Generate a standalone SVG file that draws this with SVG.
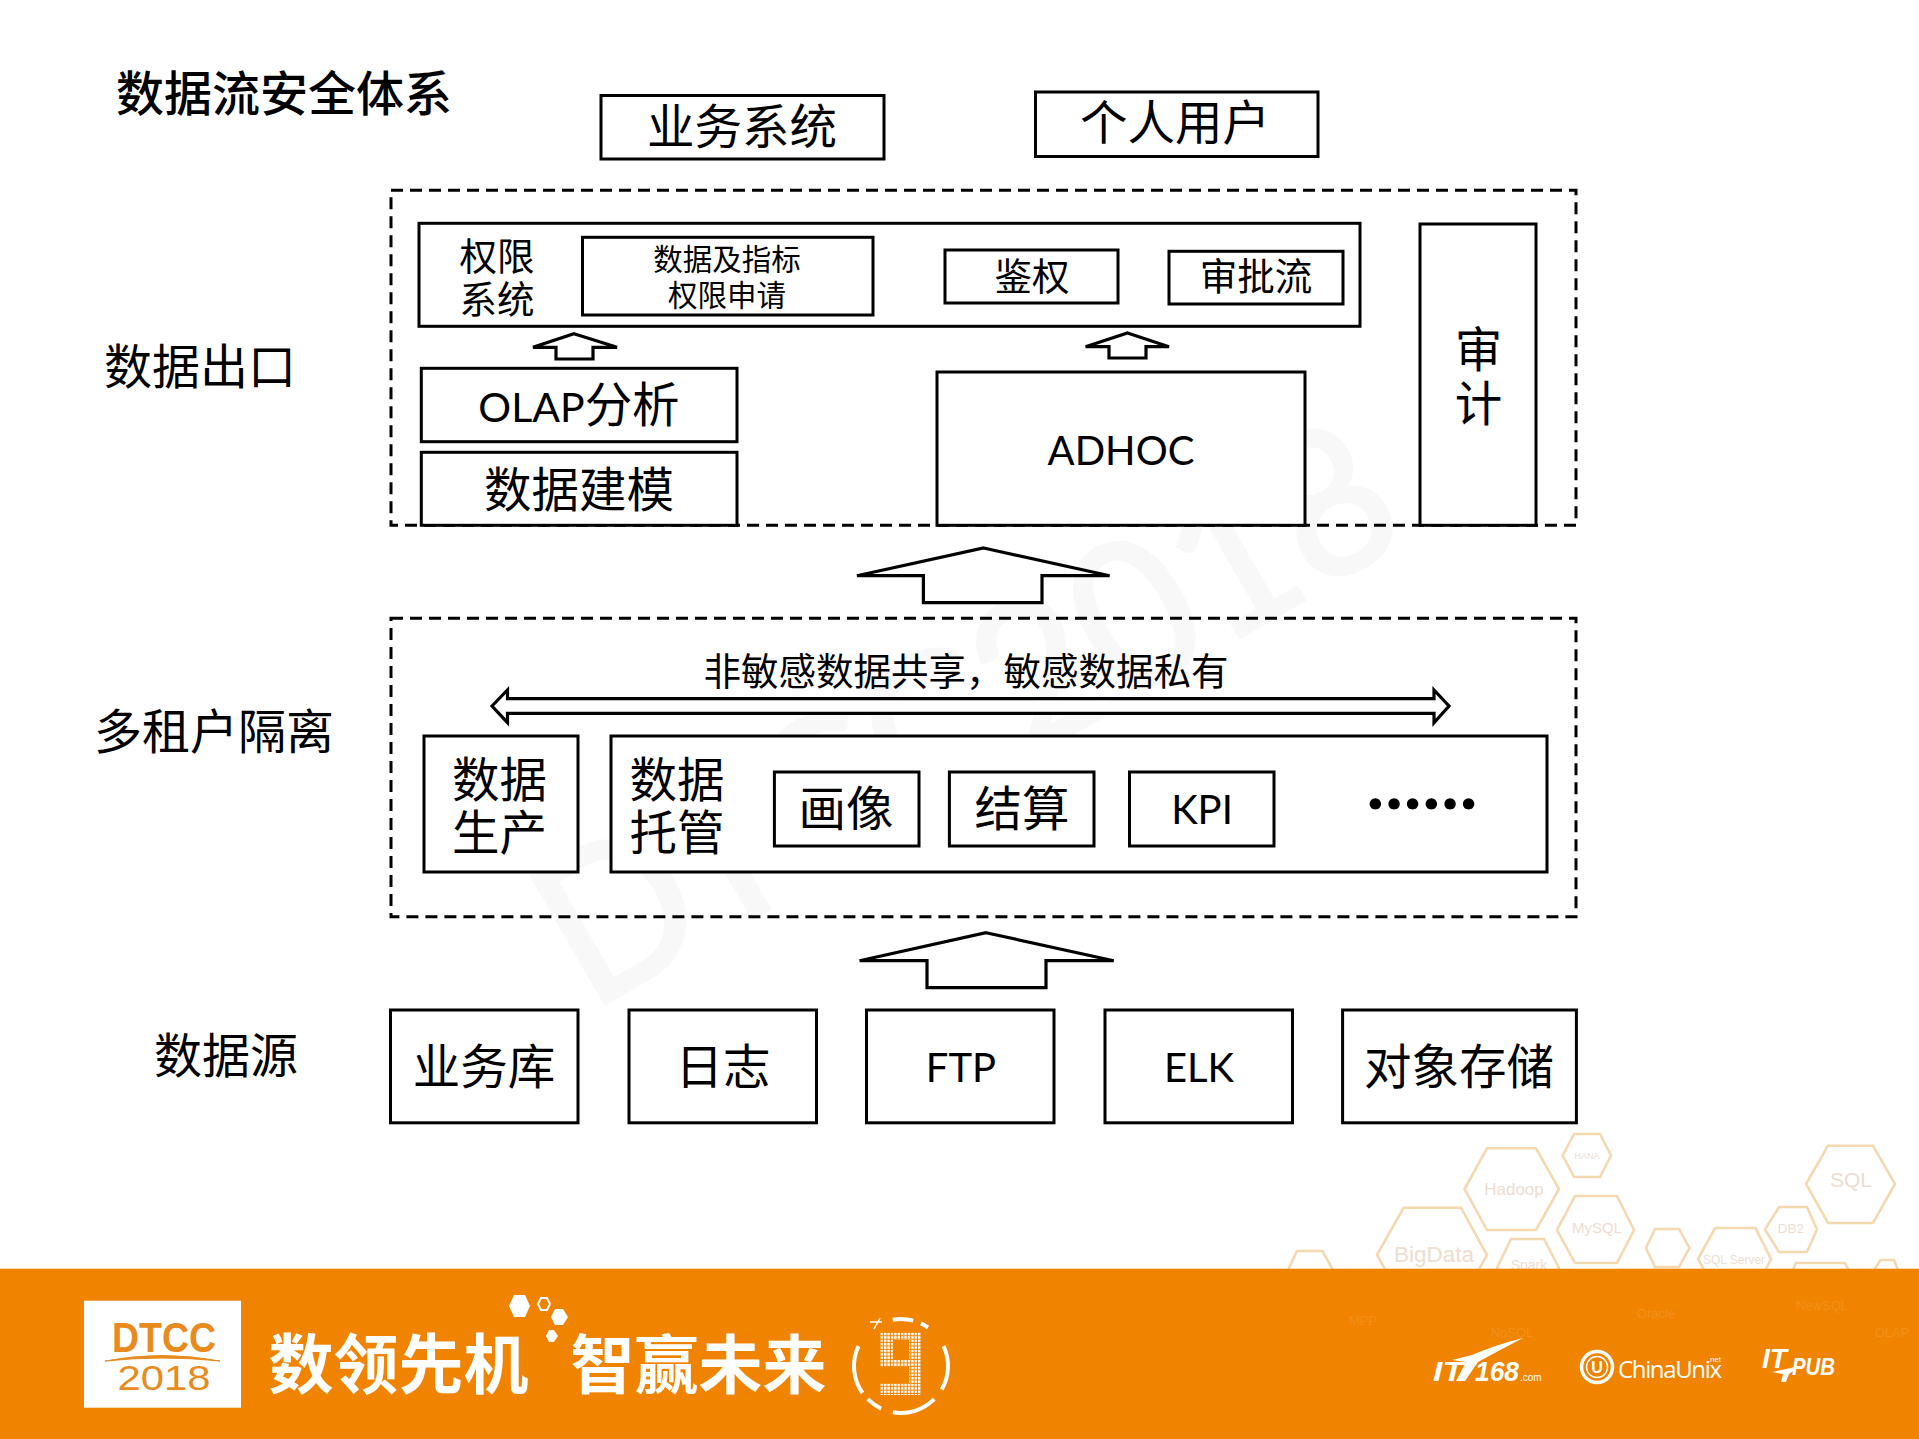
<svg xmlns="http://www.w3.org/2000/svg" width="1919" height="1439" viewBox="0 0 1919 1439">
<defs>
<style>
text{font-family:"Noto Sans CJK SC","Liberation Sans",sans-serif;text-anchor:middle;fill:#000}
.l{font-family:Lato,"Noto Sans CJK SC",sans-serif;font-size:40px}
.b{fill:#fff;stroke:#000;stroke-width:3}
.d{fill:none;stroke:#000;stroke-width:3;stroke-dasharray:12 7}
.a{fill:#fff;stroke:#000;stroke-width:3.2;stroke-linejoin:miter}
.f46{font-size:47.5px}.f37{font-size:37.5px}.f29{font-size:29.5px}
.hx{fill:none;stroke:#f4d8b0;stroke-width:2.6}
.ht{font-family:"Liberation Sans",sans-serif;fill:#eddcd0}
.ft{font-family:"Liberation Sans",sans-serif;fill:#f2901c}
.w{fill:#fff}
.arc{fill:none;stroke:#fff;stroke-width:4}
</style>
<pattern id="dots" width="3.4" height="3.4" patternUnits="userSpaceOnUse"><rect width="2.4" height="2.4" fill="#fff"/></pattern>
</defs>
<rect width="1919" height="1439" fill="#fff"/>
<text id="watermark" x="590" y="1012" transform="rotate(-30 590 1012)" textLength="950" lengthAdjust="spacingAndGlyphs" style="font-family:Lato,'Liberation Sans',sans-serif;font-weight:400;font-size:204px;text-anchor:start;fill:#f8f8f8;stroke:#f8f8f8;stroke-width:4">DTCC2018</text>

<g id="deco-hexagons">
<polygon class="hx" points="1464.6,1189 1487,1148.3 1536,1148.3 1559,1189 1536,1230 1487,1230"/>
<polygon class="hx" points="1562.7,1155.5 1574,1134 1600,1134 1611,1155.5 1600,1177 1574,1177"/>
<polygon class="hx" points="1806,1184 1828,1145.7 1873,1145.7 1895,1184 1873,1223 1828,1223"/>
<polygon class="hx" points="1557,1230 1575,1196 1617,1196 1634,1230 1617,1263 1575,1263"/>
<polygon class="hx" points="1377,1255 1403.6,1207.7 1461,1207.7 1487,1255 1461,1302 1403.6,1302"/>
<polygon class="hx" points="1497,1268 1511,1239 1544,1239 1559,1268 1544,1297 1511,1297"/>
<polygon class="hx" points="1646,1248 1655,1229 1679,1229 1689.4,1248 1679,1267 1655,1267"/>
<polygon class="hx" points="1698,1259 1715,1228 1755.5,1228 1771,1259 1755.5,1290 1715,1290"/>
<polygon class="hx" points="1765,1229.5 1779,1207 1807,1207 1817,1229.5 1807,1252 1779,1252"/>
<polygon class="hx" points="1288,1270 1297,1251 1322.5,1251 1333,1270 1322,1290 1297,1290"/>
<polygon class="hx" points="1790,1275 1796,1263 1845,1263 1851,1275 1845,1290 1796,1290"/>
<polygon class="hx" points="1874,1270 1880.5,1260 1894,1260 1898,1270 1894,1280 1880.5,1280"/>
<text class="ht" x="1514" y="1195" font-size="17">Hadoop</text>
<text class="ht" x="1587" y="1159" font-size="9">HANA</text>
<text class="ht" x="1851" y="1187" font-size="21">SQL</text>
<text class="ht" x="1597" y="1233" font-size="15">MySQL</text>
<text class="ht" x="1434" y="1262" font-size="22.5">BigData</text>
<text class="ht" x="1529" y="1270" font-size="14">Spark</text>
<text class="ht" x="1734" y="1264" font-size="12">SQL Server</text>
<text class="ht" x="1791" y="1233" font-size="13.5">DB2</text>
</g>

<g id="footer">
<rect y="1268.7" width="1919" height="171" fill="#f08300"/>
<text class="ft" x="1363" y="1325" font-size="13">MPP</text>
<text class="ft" x="1512" y="1337" font-size="13">NoSQL</text>
<text class="ft" x="1656" y="1318" font-size="13">Oracle</text>
<text class="ft" x="1822" y="1310" font-size="13">NewSQL</text>
<text class="ft" x="1892" y="1337" font-size="13">OLAP</text>
</g>
<g id="dtcc-logo">
<rect x="84" y="1300.7" width="157" height="107" fill="#fff"/>
<text x="164" y="1352" textLength="104" lengthAdjust="spacingAndGlyphs" style="font-family:'Liberation Sans',sans-serif;font-size:42px;font-weight:700;fill:#e88a1e">DTCC</text>
<path d="M105 1361Q162 1350 220 1361Q162 1355 105 1361Z" fill="#e88a1e" stroke="#e88a1e"/>
<text x="164" y="1390" textLength="93" lengthAdjust="spacingAndGlyphs" style="font-family:'Liberation Sans',sans-serif;font-size:35px;fill:#e88a1e">2018</text>
</g>
<g id="slogan">
<text class="w" x="398.500" y="1388" style="font-size:65px;font-weight:700;fill:#fff">数领先机</text>
<text class="w" x="698.500" y="1388" style="font-size:64px;font-weight:700;fill:#fff">智赢未来</text>
<polygon class="w" points="509,1306 514,1295 525,1295 530,1306 525,1317 514,1317"/>
<polygon points="538,1304 541,1298 547,1298 550,1304 547,1310 541,1310" fill="none" stroke="#fff" stroke-width="2"/>
<polygon class="w" points="551,1317 555,1309 563,1309 568,1317 563,1325 555,1325"/>
<polygon class="w" points="546,1336 549,1330 554,1330 558,1336 554,1342 549,1342"/>
<path class="arc" d="M892.800 1319.700A47 47 0 0 1 913.200 1320.600M920.900 1323.400A47 47 0 0 1 928 1327.500"/>
<path class="arc" d="M943.600 1346.100A47 47 0 0 1 941.700 1389.500"/>
<path class="arc" stroke-width="5" d="M934.200 1399.200A47 47 0 0 1 892.800 1412.300"/>
<path class="arc" d="M862.500 1393A47 47 0 0 1 858.400 1346.100M881.100 1408.600A47 47 0 0 1 867.800 1399.200"/>
<path d="M874 1329L880 1318M870 1322L882 1322" stroke="#fff" stroke-width="1.500" fill="none"/>
<path fill="url(#dots)" fill-rule="evenodd" d="M880 1332H921V1395H880V1383H909V1367H880ZM893 1340V1360H909V1340Z"/>
</g>
<g id="partner-logos">
<text x="1433" y="1381" textLength="30" lengthAdjust="spacingAndGlyphs" style="font-family:'Liberation Sans',sans-serif;font-weight:700;font-style:italic;font-size:27px;text-anchor:start;fill:#fff">IT</text>
<text x="1475" y="1381" textLength="44" lengthAdjust="spacingAndGlyphs" style="font-family:'Liberation Sans',sans-serif;font-weight:700;font-style:italic;font-size:27px;text-anchor:start;fill:#fff">168</text>
<text x="1520" y="1381" style="font-family:'Liberation Sans',sans-serif;font-size:10px;text-anchor:start;fill:#fff">.com</text>
<path d="M1523 1338Q1495 1345 1472 1355L1452 1360L1466 1362L1456 1381H1465L1478 1362Q1500 1350 1523 1338Z" fill="#fff"/>
<circle cx="1597" cy="1367" r="15.500" fill="none" stroke="#fff" stroke-width="3.500"/>
<circle cx="1597" cy="1367" r="10.500" fill="none" stroke="#fff" stroke-width="1.500"/>
<text x="1597" y="1373" style="font-family:'Liberation Sans',sans-serif;font-weight:700;font-size:16px;fill:#fff">U</text>
<text x="1618" y="1378" textLength="104" style="font-family:'Open Sans',sans-serif;font-size:24px;text-anchor:start;fill:#fff">ChinaUnix</text>
<text x="1721" y="1362" style="font-family:'Liberation Sans',sans-serif;font-size:8px;text-anchor:end;fill:#fff">.net</text>
<text x="1762" y="1368" style="font-family:'Liberation Sans',sans-serif;font-weight:700;font-style:italic;font-size:28px;text-anchor:start;fill:#fff">IT</text>
<text x="1792" y="1375" textLength="43" lengthAdjust="spacingAndGlyphs" style="font-family:'Liberation Sans',sans-serif;font-weight:700;font-style:italic;font-size:23px;text-anchor:start;fill:#fff">PUB</text>
<path d="M1772 1372L1800 1366L1789 1374L1786 1382H1781L1783 1374Z" fill="#fff"/>
</g>

<g id="title"><text x="284" y="111" style="font-size:48px;font-weight:500">数据流安全体系</text></g>
<g id="label-out"><text x="200" y="384" style="font-size:48px">数据出口</text></g>
<g id="label-tenant"><text x="214" y="749" style="font-size:48px">多租户隔离</text></g>
<g id="label-source"><text x="226" y="1073" style="font-size:48px">数据源</text></g>

<g id="group-export"><rect class="d" x="391" y="190.300" width="1185" height="335"/></g>
<g id="group-tenant"><rect class="d" x="391" y="618.300" width="1185" height="298.400"/></g>

<g id="biz"><rect class="b" x="601" y="95.500" width="283" height="63.500"/><text class="f46" x="742" y="144">业务系统</text></g>
<g id="user"><rect class="b" x="1035.500" y="92" width="282.500" height="64.500"/><text class="f46" x="1175" y="139.500">个人用户</text></g>

<g id="perm"><rect class="b" x="419" y="223.300" width="941" height="103"/>
<text class="f37" x="497" y="270">权限</text><text class="f37" x="497" y="313">系统</text></g>
<g id="perm-apply"><rect class="b" x="582.500" y="237.300" width="290.500" height="77.700"/>
<text class="f29" x="727" y="270">数据及指标</text><text class="f29" x="727" y="305.500">权限申请</text></g>
<g id="auth"><rect class="b" x="945" y="250" width="173" height="53"/><text class="f37" x="1032" y="290">鉴权</text></g>
<g id="approve"><rect class="b" x="1169" y="251.300" width="174" height="52.700"/><text class="f37" x="1256" y="290">审批流</text></g>
<g id="olap"><rect class="b" x="421.300" y="368.300" width="315.700" height="73.400"/><text class="f46" x="579" y="422"><tspan class="l" style="font-size:41px">OLAP</tspan>分析</text></g>
<g id="model"><rect class="b" x="421.300" y="452.300" width="315.700" height="73"/><text class="f46" x="579" y="507">数据建模</text></g>
<g id="adhoc"><rect class="b" x="937" y="372" width="368" height="153.300"/><text class="l" x="1121" y="465">ADHOC</text></g>
<g id="audit"><rect class="b" x="1420" y="224" width="116" height="301.300"/><text class="f46" x="1478.500" y="367">审</text><text class="f46" x="1478.500" y="421">计</text></g>

<g id="producer"><rect class="b" x="424" y="736" width="154" height="136"/><text class="f46" x="499.500" y="797">数据</text><text class="f46" x="499.500" y="850">生产</text></g>
<g id="hosting"><rect class="b" x="611" y="736" width="936" height="136"/><text class="f46" x="677" y="797">数据</text><text class="f46" x="677" y="850">托管</text>
<text x="1367" y="809" style="font-family:Lato,'Liberation Sans',sans-serif;font-size:70px;font-weight:900;letter-spacing:2px;text-anchor:start">......</text></g>
<g id="profile"><rect class="b" x="774.400" y="772" width="144.600" height="74"/><text class="f46" x="846" y="826">画像</text></g>
<g id="settle"><rect class="b" x="949.400" y="772" width="144.600" height="74"/><text class="f46" x="1022" y="826">结算</text></g>
<g id="kpi"><rect class="b" x="1129.500" y="772" width="144.500" height="74"/><text class="l" x="1202" y="824">KPI</text></g>
<g id="share-label"><text class="f37" x="966" y="685">非敏感数据共享，敏感数据私有</text></g>

<g id="src-db"><rect class="b" x="390.500" y="1010" width="187.500" height="112.800"/><text class="f46" x="484" y="1084">业务库</text></g>
<g id="src-log"><rect class="b" x="629" y="1010" width="187.500" height="112.800"/><text class="f46" x="723" y="1084">日志</text></g>
<g id="src-ftp"><rect class="b" x="866.500" y="1010" width="187.500" height="112.800"/><text class="l" x="961" y="1082">FTP</text></g>
<g id="src-elk"><rect class="b" x="1105" y="1010" width="187.500" height="112.800"/><text class="l" x="1199" y="1082">ELK</text></g>
<g id="src-obj"><rect class="b" x="1342.600" y="1010" width="233.800" height="112.800"/><text class="f46" x="1459" y="1084">对象存储</text></g>

<g id="connectors">
<polygon class="a" points="574,333.700 617,347.300 593,347.300 593,359 556,359 556,347.300 533,347.300"/>
<polygon class="a" points="1127.500,333 1169,346.700 1146,346.700 1146,358 1109,358 1109,346.700 1085.600,346.700"/>
<polygon class="a" points="983.600,548 1109.600,575.700 1042,575.700 1042,602.700 923.400,602.700 923.400,575.700 857,575.700"/>
<polygon class="a" points="986,932.700 1113.700,960.700 1046,960.700 1046,987.700 927,987.700 927,960.700 859.600,960.700"/>
<polygon class="a" points="492,706 507.500,690 507.500,698.700 1434,698.700 1434,690 1449,706 1434,722.700 1434,713.300 507.500,713.300 507.500,722.700"/>
</g>
</svg>
